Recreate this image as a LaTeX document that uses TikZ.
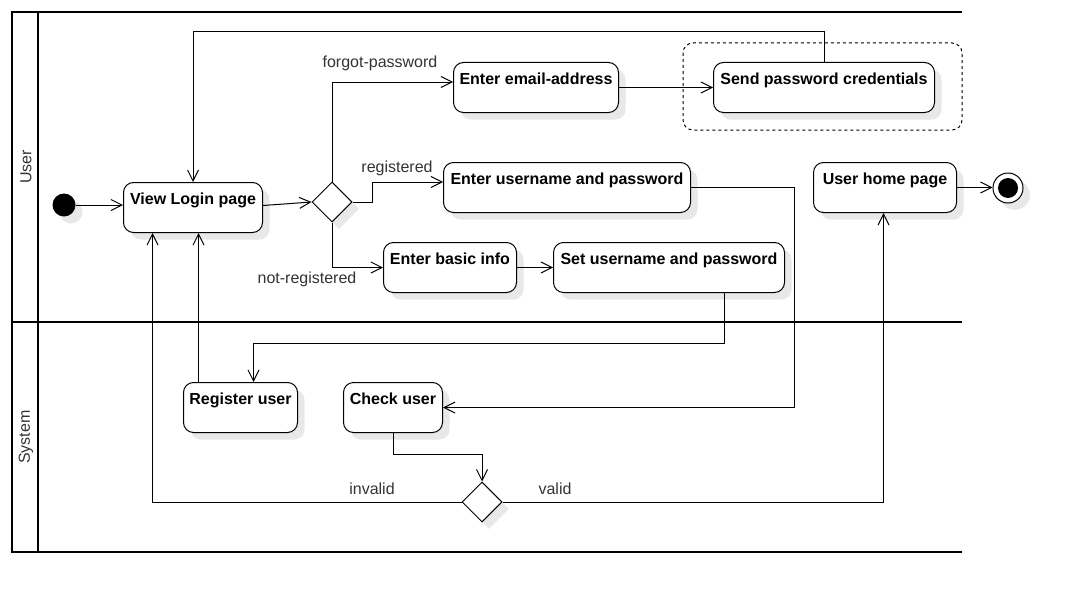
\documentclass[tikz,border=0pt]{standalone}
\usepackage{fontspec}
\setmainfont{Liberation Sans}
\usetikzlibrary{arrows.meta,shadows,shapes.geometric,calc}
\begin{document}
\begin{tikzpicture}[x=1pt,y=-1pt,
  shd/.style={drop shadow={shadow xshift=7pt,shadow yshift=-7pt,fill=black!9,opacity=1}},
  act/.style={draw,line width=1pt,rounded corners=10pt,fill=white,shd,
    font=\fontsize{16}{19}\selectfont\bfseries,inner xsep=0pt,inner ysep=0pt,
    text height=22pt,text depth=28pt,minimum height=50pt,anchor=north west},
  dec/.style={diamond,draw,line width=1pt,fill=white,shd,minimum width=40pt,minimum height=40pt,inner sep=0pt},
  arr/.style={line width=1pt,-{Straight Barb[length=11pt,width=11pt]}},
  lbl/.style={font=\fontsize{16}{19}\selectfont,text=black!80,inner sep=0pt},
  lane/.style={line width=2pt},
  lanelbl/.style={font=\fontsize{16}{19}\selectfont,text=black!80,rotate=90,inner sep=0pt}]
\useasboundingbox (0,0) rectangle (1073,602);
% swimlanes
\draw[lane] (962,12) -- (12,12) -- (12,552) -- (962,552);
\draw[lane] (38,12) -- (38,552);
\draw[lane] (12,322) -- (962,322);
\node[lanelbl] (lu) at (26,167) {User};
\node[lanelbl] (ls) at (26,437) {System};
% dashed region
\draw[line width=1pt,dashed,dash pattern=on 3pt off 3pt,rounded corners=10pt] (683,43) rectangle (962,130);
% nodes
\node[circle,fill=black,minimum size=23pt,inner sep=0pt,shd] (init) at (64,205) {};
\node[act,minimum width=139pt] (vlp) at (123,182) {View Login page};
\node[dec] (d1) at (332,202) {};
\node[act,minimum width=165pt] (email) at (453,62) {Enter email-address};
\node[act,minimum width=221pt] (spc) at (713,62) {Send password credentials};
\node[act,minimum width=247pt] (eup) at (443,162) {Enter username and password};
\node[act,minimum width=143pt] (uhp) at (813,162) {User home page};
\node[circle,draw,line width=1pt,fill=white,minimum size=30pt,inner sep=0pt,shd,
  path picture={\fill[black] (path picture bounding box.center) circle (10pt);}] (fin) at (1008,188) {};
\node[act,minimum width=133pt] (ebi) at (383,242) {Enter basic info};
\node[act,minimum width=231pt] (seup) at (553,242) {Set username and password};
\node[act,minimum width=114pt] (ru) at (183,382) {Register user};
\node[act,minimum width=99pt] (cu) at (343,382) {Check user};
\node[dec] (d2) at (482,502) {};
% connectors
\draw[arr] (init.east) -- (init.east -| vlp.west);
\draw[arr] ([yshift=2pt]vlp.east) -- (d1.west);
\draw[arr] (d1.north) |- ($(email.north west)+(0,20)$);
\draw[arr] (d1.east) -- ++(20,0) |- ($(eup.north west)+(0,20)$);
\draw[arr] (d1.south) |- (ebi.west);
\draw[arr] (email.east) -- (spc.west);
\draw[arr] (spc.north) -- ++(0,-30) -| (vlp.north);
\draw[arr] (ebi.east) -- (seup.west);
\draw[arr] ([xshift=55pt]seup.south) -- ++(0,50) -| ([xshift=13pt]ru.north);
\draw[arr] ([xshift=-42pt]ru.north) -- ([xshift=-42pt]ru.north |- vlp.south);
\draw[arr] (eup.east) -- ++(103,0) |- (cu.east);
\draw[arr] (cu.south) -- ++(0,21) -| (d2.north);
\draw[arr] (d2.west) -| ([xshift=-40.5pt]vlp.south);
\draw[arr] (d2.east) -| ([xshift=-1.5pt]uhp.south);
\draw[arr] (uhp.east) -- (uhp.east -| fin.west);
% labels
\node[lbl] (l1) at (380,63) {forgot-password};
\node[lbl] (l2) at (397,168) {registered};
\node[lbl] (l3) at (307,279) {not-registered};
\node[lbl] (l4) at (372,489) {invalid};
\node[lbl] (l5) at (555,489) {valid};
\end{tikzpicture}
\end{document}
